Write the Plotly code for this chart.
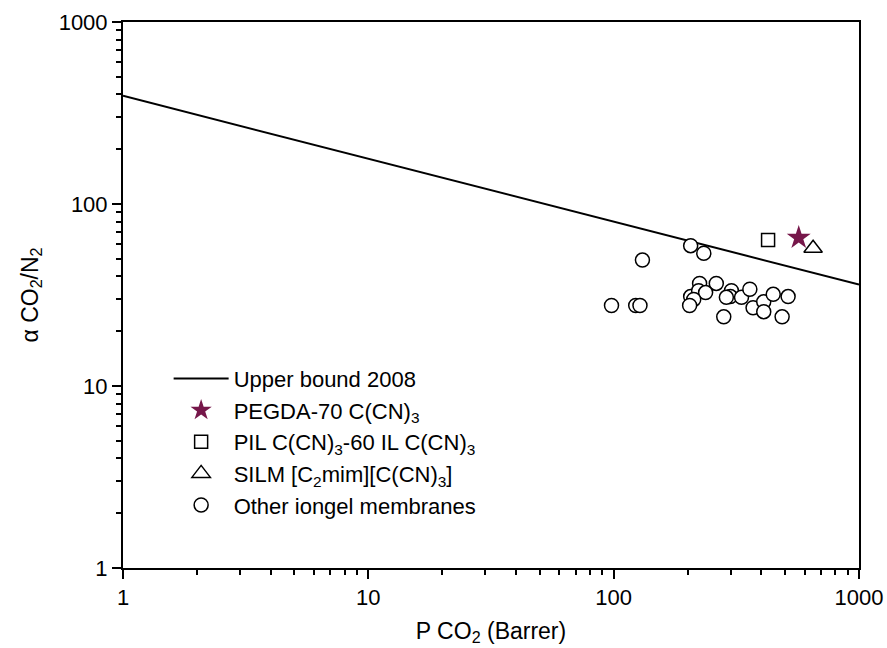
import plotly.graph_objects as go

# Upper bound 2008 (Robeson) endpoints
bound_x = [1, 1000]
bound_y = [393.0, 36.1]

pegda_x = [568]
pegda_y = [65.3]

pil_x = [426]
pil_y = [63.4]

silm_x = [650]
silm_y = [57.1]

other_x = [206, 233, 131, 98, 123, 128, 224, 262, 206, 222, 237, 212, 204,
           302, 299, 288, 332, 359, 370, 409, 409, 447, 514, 486, 281]
other_y = [59.0, 53.6, 49.2, 27.7, 27.7, 27.7, 36.6, 36.6, 31.0, 33.4, 32.6, 29.9, 27.7,
           33.4, 31.0, 30.7, 30.7, 34.0, 26.9, 29.0, 25.6, 31.9, 31.0, 24.0, 24.0]

major_ticks = [1, 10, 100, 1000]
minor_ticks = [m * 10 ** d for d in range(3) for m in range(2, 10)]

FONT = "Liberation Sans, Arial, sans-serif"
FS = 22

fig = go.Figure()
fig.add_trace(go.Scatter(x=bound_x, y=bound_y, mode="lines",
                         line=dict(color="black", width=2),
                         name="Upper bound 2008"))
fig.add_trace(go.Scatter(x=pegda_x, y=pegda_y, mode="markers",
                         marker=dict(symbol="star", size=18, color="#76174A"),
                         name="PEGDA-70 C(CN)<sub>3</sub>"))
fig.add_trace(go.Scatter(x=pil_x, y=pil_y, mode="markers",
                         marker=dict(symbol="square-open", size=13, color="black",
                                     line=dict(width=1.5)),
                         name="PIL C(CN)<sub>3</sub>-60 IL C(CN)<sub>3</sub>"))
fig.add_trace(go.Scatter(x=silm_x, y=silm_y, mode="markers",
                         marker=dict(symbol="triangle-up-open", size=16, color="black",
                                     line=dict(width=1.5)),
                         name="SILM [C<sub>2</sub>mim][C(CN)<sub>3</sub>]"))
fig.add_trace(go.Scatter(x=other_x, y=other_y, mode="markers",
                         marker=dict(symbol="circle", size=14, color="white",
                                     line=dict(color="black", width=1.5)),
                         name="Other iongel membranes"))

axis_common = dict(
    type="log", showgrid=False, zeroline=False, automargin=False,
    showline=True, linecolor="black", linewidth=2, mirror=True,
    ticks="outside", ticklen=9, tickwidth=2, tickcolor="black",
    ticklabeloverflow="allow",
    tickfont=dict(family=FONT, size=FS, color="black"),
    tickvals=major_ticks, ticktext=[str(v) for v in major_ticks],
    minor=dict(tickvals=minor_ticks, ticks="outside", ticklen=5,
               tickwidth=1.5, tickcolor="black", showgrid=False),
)

fig.update_xaxes(range=[0, 3],
                 title=dict(text="P CO<sub>2</sub> (Barrer)",
                            font=dict(family=FONT, size=23, color="black"),
                            standoff=13),
                 **axis_common)
fig.update_yaxes(range=[0, 3],
                 title=dict(text="α CO<sub>2</sub>/N<sub>2</sub>",
                            font=dict(family=FONT, size=23, color="black"),
                            standoff=14),
                 **axis_common)

fig.update_layout(
    width=887, height=648,
    margin=dict(l=123, r=28, t=22, b=80),
    plot_bgcolor="white", paper_bgcolor="white",
    font=dict(family=FONT, size=FS, color="black"),
    legend=dict(x=0.062, y=0.385, xanchor="left", yanchor="top",
                bgcolor="rgba(0,0,0,0)", itemwidth=55,
                font=dict(family=FONT, size=22, color="black"),
                tracegroupgap=0),
    showlegend=True,
)

fig.write_html(
    "out.html",
    config={"displayModeBar": False},
    post_script="document.body.style.margin='0';document.body.style.overflow='hidden';",
)
